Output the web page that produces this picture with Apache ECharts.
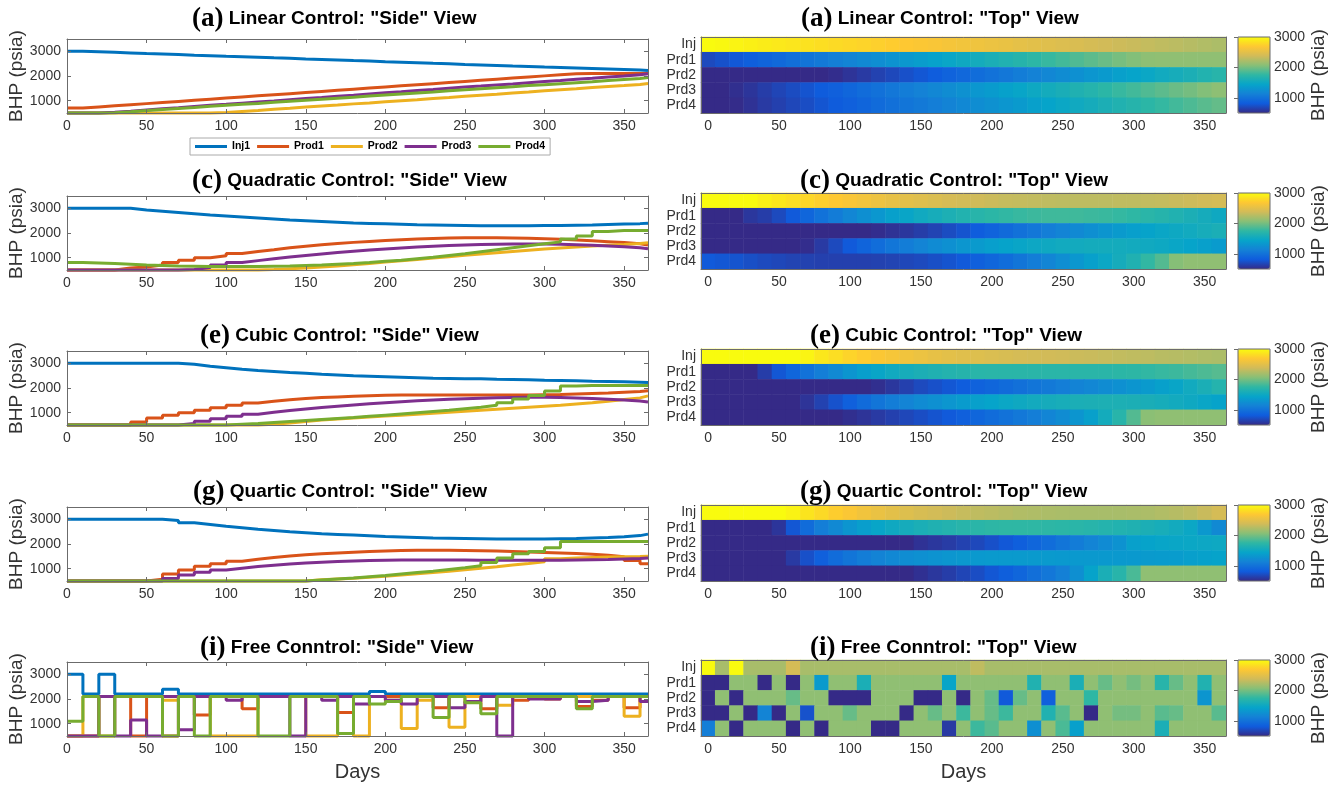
<!DOCTYPE html>
<html><head><meta charset="utf-8">
<script src="https://cdn.jsdelivr.net/npm/echarts@6/dist/echarts.min.js"></script>
<style>html,body{margin:0;padding:0;background:#fff}#c{width:1333px;height:785px}</style>
</head><body><div id="c"></div><script>
// ---------- data ----------
const days = [0,10,20,30,40,50,60,70,80,90,100,110,120,130,140,150,160,170,180,190,200,210,220,230,240,250,260,270,280,290,300,310,320,330,340,350,360];
const endDay = 365;
const wellLabels = ['Inj','Prd1','Prd2','Prd3','Prd4'];
const seriesNames = ['Inj1','Prod1','Prod2','Prod3','Prod4'];
const yTicks = [1000,2000,3000];
const cbTicks = [1000,2000,3000];
const letters = ['a','c','e','g','i'];
const controls = ['Linear Control','Quadratic Control','Cubic Control','Quartic Control','Free Conntrol'];

const linInj   = [3000,2980,2960,2935,2910,2890,2870,2845,2825,2800,2780,2760,2735,2715,2690,2670,2650,2625,2605,2580,2560,2540,2515,2495,2470,2450,2430,2405,2385,2360,2340,2320,2300,2280,2260,2240,2220];
const linProd1 = [700,745,790,835,880,925,970,1015,1060,1105,1150,1195,1240,1285,1330,1375,1420,1465,1510,1555,1600,1645,1690,1735,1780,1825,1870,1915,1960,2005,2050,2090,2100,2100,2100,2100,2100];
const linProd2 = [500,500,500,500,500,500,500,500,500,520,560,600,650,690,740,780,820,870,910,960,1000,1040,1090,1130,1180,1220,1260,1310,1350,1400,1440,1480,1530,1570,1610,1660,1700];
const linProd3 = [500,500,530,570,620,670,710,760,810,850,900,950,990,1040,1090,1130,1180,1220,1270,1320,1360,1410,1450,1500,1550,1590,1640,1680,1730,1780,1820,1870,1910,1960,2000,2050,2090];
const linProd4 = [500,500,510,550,600,640,680,720,770,810,850,890,940,980,1020,1060,1100,1140,1190,1230,1270,1310,1350,1400,1440,1480,1520,1560,1610,1650,1690,1730,1770,1820,1860,1900,1940];

const quadInj   = [3000,3000,3000,3000,2930,2880,2830,2780,2730,2690,2650,2610,2570,2530,2500,2470,2440,2410,2390,2370,2350,2330,2320,2310,2300,2290,2290,2290,2290,2300,2300,2310,2320,2340,2360,2380,2400];
const quadProd1 = [500,500,500,580,620,700,800,900,1000,1080,1170,1250,1320,1400,1460,1520,1570,1620,1660,1700,1730,1760,1780,1800,1810,1810,1810,1800,1790,1770,1750,1720,1690,1650,1610,1560,1510];
const quadProd2 = [500,500,500,500,500,500,500,500,500,500,500,500,520,550,580,620,660,710,760,820,870,930,990,1040,1100,1150,1200,1250,1300,1350,1390,1430,1470,1500,1530,1570,1600];
const quadProd3 = [500,500,500,500,500,500,500,520,600,700,800,880,960,1030,1090,1150,1210,1260,1310,1350,1390,1430,1460,1490,1510,1530,1540,1550,1550,1550,1540,1520,1500,1470,1440,1400,1360];
const quadProd4 = [800,780,760,730,700,680,660,650,640,640,640,640,650,660,680,700,730,760,800,850,900,960,1020,1090,1160,1240,1320,1400,1480,1560,1640,1760,1880,2060,2100,2100,2100];

const cubInj   = [3000,3000,3000,3000,3000,3000,3000,2960,2880,2820,2760,2710,2670,2630,2600,2560,2530,2500,2480,2460,2440,2420,2400,2390,2380,2370,2350,2340,2330,2310,2300,2290,2270,2260,2250,2230,2220];
const cubProd1 = [500,500,500,500,620,780,900,1000,1100,1200,1300,1390,1460,1520,1570,1610,1640,1670,1690,1710,1720,1720,1720,1720,1720,1720,1720,1720,1720,1730,1740,1760,1780,1800,1830,1860,1890];
const cubProd2 = [500,500,500,500,500,500,500,500,500,500,500,500,530,580,640,700,740,780,820,860,900,940,980,1020,1060,1100,1140,1180,1220,1260,1300,1350,1400,1460,1530,1600,1680];
const cubProd3 = [500,500,500,500,500,500,500,560,650,750,850,940,1020,1090,1150,1210,1260,1310,1360,1400,1440,1480,1510,1540,1560,1580,1600,1610,1620,1620,1610,1590,1570,1540,1510,1470,1430];
const cubProd4 = [500,500,500,500,500,500,500,500,500,500,530,560,600,640,680,720,760,800,850,900,950,1000,1050,1100,1160,1220,1300,1400,1550,1700,1880,2080,2100,2100,2100,2100,2100];

const quaInj   = [3000,3000,3000,3000,3000,3000,2950,2860,2790,2720,2660,2600,2550,2500,2460,2420,2390,2360,2330,2300,2280,2260,2240,2230,2220,2210,2200,2200,2200,2200,2210,2220,2240,2260,2290,2340,2400];
const quaProd1 = [500,500,500,500,500,570,780,950,1100,1200,1300,1380,1450,1510,1560,1600,1640,1670,1700,1720,1740,1750,1750,1750,1740,1730,1720,1700,1680,1660,1640,1610,1580,1540,1480,1330,1200];
const quaProd2 = [500,500,500,500,500,500,500,500,500,500,500,500,500,500,500,550,580,610,650,690,740,790,840,900,960,1020,1080,1150,1210,1280,1400,1430,1450,1470,1480,1490,1500];
const quaProd3 = [500,500,500,500,500,500,600,740,850,950,1020,1090,1140,1190,1230,1260,1290,1310,1330,1340,1350,1350,1350,1350,1350,1340,1340,1340,1340,1340,1340,1350,1360,1370,1390,1410,1430];
const quaProd4 = [500,500,500,500,500,500,500,500,500,500,500,500,500,500,500,540,580,620,670,720,780,840,900,970,1040,1120,1250,1430,1600,1700,1850,2100,2100,2100,2100,2100,2100];

const freeInj   = [3000,2200,3000,2200,2200,2200,2400,2200,2200,2200,2200,2200,2200,2200,2200,2200,2200,2200,2200,2300,2200,2200,2200,2200,2200,2200,2200,2200,2200,2200,2200,2200,2200,2200,2200,2200,2200];
const freeProd1 = [500,500,2100,2100,500,2100,500,2100,1350,2100,2100,1600,2100,2100,2100,2100,2100,1450,2100,2100,2100,2100,2100,1650,2100,2100,1600,2100,1950,2100,2000,2100,1700,1950,2100,1650,2100];
const freeProd2 = [500,2100,500,2100,2100,2100,1950,2100,2100,500,500,500,2100,2100,2100,500,500,2100,500,2100,1950,800,1950,2100,850,2100,2100,1750,2100,2100,2100,2100,2100,2100,2100,1300,2100];
const freeProd3 = [500,500,2100,500,1150,500,2100,750,2100,2100,1950,2100,2100,2100,500,2100,1950,2100,1800,2100,1950,1800,2100,2100,1650,1900,2100,500,2100,2000,2000,2100,1900,1950,2100,2100,1900];
const freeProd4 = [1100,2100,500,2100,2100,2100,500,2100,500,2100,2100,2100,500,500,2100,2100,2100,600,2100,1800,1900,2100,2100,1250,2100,1850,1400,2100,2100,2100,2100,2100,1600,2100,2100,2100,2100];

const rows = [
  [linInj, linProd1, linProd2, linProd3, linProd4],
  [quadInj, quadProd1, quadProd2, quadProd3, quadProd4],
  [cubInj, cubProd1, cubProd2, cubProd3, cubProd4],
  [quaInj, quaProd1, quaProd2, quaProd3, quaProd4],
  [freeInj, freeProd1, freeProd2, freeProd3, freeProd4]
];

// ---------- style / layout ----------
const colors = ['#0072BD','#D95319','#EDB120','#7E2F8E','#77AC30'];
const parula = ['#352a87','#0f5cdd','#1481d6','#06a4ca','#2eb7a4','#87bf77','#d1bb59','#fec832','#f9fb0e'];
const FONT = 'Liberation Sans';
const AXC = '#6b6b6b';
const LBC = '#333';
const L = {x:67, w:581, tops:[39,196,351,507,662], h:74};
const R = {x:701, w:525, tops:[37,193,349,505,660], h:76};
const CB = {x:1238, w:32};
const titleY = [19,181,336,492,648];
const titleLX = [192,192,200,193,200];
const titleRX = [801,800,810,800,810];

const opt = {animation:false, grid:[], xAxis:[], yAxis:[], series:[], visualMap:[], title:[],
  legend:{data:seriesNames, left:190, top:138, icon:'rect', itemWidth:32, itemHeight:3, itemGap:7,
    padding:[3,5], borderColor:'#aaa', borderWidth:1, selectedMode:false,
    textStyle:{fontSize:10.5, fontWeight:'bold', fontFamily:FONT, color:'#000'}}
};
const plain = v => String(v);
const lbl = (extra)=>Object.assign({color:LBC, fontSize:14, fontFamily:FONT, margin:6}, extra||{});
const line = {show:true, onZero:false, lineStyle:{color:AXC, width:1}};

function stepData(v){ return days.map((d,i)=>[d, v[i]]).concat([[endDay, v[v.length-1]]]); }

function titleText(r, view){
  return '{p|(' + letters[r] + ')} {t|' + controls[r] + ': "' + view + '" View}';
}
const titleRich = {p:{fontFamily:'Liberation Serif', fontWeight:'bold', fontSize:27, lineHeight:30, color:'#000'},
                   t:{fontFamily:FONT, fontWeight:'bold', fontSize:19, lineHeight:30, color:'#000'}};

for (let r=0;r<5;r++){
  // ----- left: side view -----
  opt.title.push({left:titleLX[r], top:titleY[r]-15, padding:0, text:titleText(r,'Side'),
    textStyle:{fontSize:19, fontFamily:FONT, rich:titleRich}});
  let gi = opt.grid.length;
  opt.grid.push({left:L.x, top:L.tops[r], width:L.w, height:L.h});
  let xb = opt.xAxis.length;
  opt.xAxis.push({gridIndex:gi, type:'value', min:0, max:endDay, interval:50, position:'bottom', z:5,
    axisLine:line, axisTick:{inside:true, length:4, lineStyle:{color:AXC}},
    axisLabel:lbl({showMaxLabel:false, formatter:plain}), splitLine:{show:false},
    name: r===4 ? 'Days' : '', nameLocation:'middle', nameGap:26,
    nameTextStyle:{fontSize:20, fontFamily:FONT, color:LBC}});
  opt.xAxis.push({gridIndex:gi, type:'value', min:0, max:endDay, interval:50, position:'top', z:5,
    axisLine:line, axisTick:{inside:true, length:4, lineStyle:{color:AXC}},
    axisLabel:{show:false}, splitLine:{show:false}});
  let yl = opt.yAxis.length;
  opt.yAxis.push({gridIndex:gi, type:'value', min:500, max:3500, position:'left', z:5,
    axisLine:line, axisTick:{inside:true, length:4, customValues:yTicks, lineStyle:{color:AXC}},
    axisLabel:lbl({customValues:yTicks, formatter:plain}), splitLine:{show:false},
    name:'BHP (psia)', nameLocation:'middle', nameGap:35,
    nameTextStyle:{fontSize:19, fontFamily:FONT, color:LBC}});
  opt.yAxis.push({gridIndex:gi, type:'value', min:500, max:3500, position:'right', z:5,
    axisLine:line, axisTick:{inside:true, length:4, customValues:yTicks, lineStyle:{color:AXC}},
    axisLabel:{show:false}, splitLine:{show:false}});
  for (let k=0;k<5;k++){
    opt.series.push({type:'line', name:seriesNames[k], xAxisIndex:xb, yAxisIndex:yl, step:'end',
      symbol:'none', clip:false, lineStyle:{width:3, color:colors[k]}, itemStyle:{color:colors[k]},
      emphasis:{disabled:true}, data:stepData(rows[r][k])});
  }

  // ----- right: top view heatmap -----
  opt.title.push({left:titleRX[r], top:titleY[r]-15, padding:0, text:titleText(r,'Top'),
    textStyle:{fontSize:19, fontFamily:FONT, rich:titleRich}});
  gi = opt.grid.length;
  opt.grid.push({left:R.x, top:R.tops[r], width:R.w, height:R.h});
  xb = opt.xAxis.length;
  const cats = days.map(String);
  opt.xAxis.push({gridIndex:gi, type:'category', data:cats, boundaryGap:true, position:'bottom', z:5,
    axisLine:line, axisTick:{inside:true, length:4, interval:4, alignWithLabel:true, lineStyle:{color:AXC}},
    axisLabel:lbl({interval:4}), splitLine:{show:false},
    name: r===4 ? 'Days' : '', nameLocation:'middle', nameGap:26,
    nameTextStyle:{fontSize:20, fontFamily:FONT, color:LBC}});
  opt.xAxis.push({gridIndex:gi, type:'category', data:cats, boundaryGap:true, position:'top', z:5,
    axisLine:line, axisTick:{inside:true, length:4, interval:4, alignWithLabel:true, lineStyle:{color:AXC}},
    axisLabel:{show:false}, splitLine:{show:false}});
  yl = opt.yAxis.length;
  opt.yAxis.push({gridIndex:gi, type:'category', data:wellLabels, inverse:true, position:'left', z:5,
    axisLine:line, axisTick:{inside:true, length:4, interval:0, alignWithLabel:true, lineStyle:{color:AXC}},
    axisLabel:lbl({interval:0, margin:5}), splitLine:{show:false}});
  opt.yAxis.push({gridIndex:gi, type:'category', data:wellLabels, inverse:true, position:'right', z:5,
    axisLine:line, axisTick:{inside:true, length:4, interval:0, alignWithLabel:true, lineStyle:{color:AXC}},
    axisLabel:{show:false}, splitLine:{show:false}});
  const cells = [];
  rows[r].forEach((vals,k)=>vals.forEach((v,i)=>cells.push([i,k,v])));
  const sIdx = opt.series.length;
  opt.series.push({type:'heatmap', xAxisIndex:xb, yAxisIndex:yl, data:cells, progressive:0,
    emphasis:{disabled:true}, itemStyle:{borderWidth:0}});
  opt.visualMap.push({type:'continuous', seriesIndex:sIdx, min:500, max:3000, calculable:false,
    orient:'vertical', left:CB.x, top:R.tops[r], itemWidth:CB.w, itemHeight:R.h, padding:0,
    hoverLink:false, z:1, inRange:{color:parula}});

  // ----- colorbar axis -----
  gi = opt.grid.length;
  opt.grid.push({left:CB.x, top:R.tops[r], width:CB.w, height:R.h, show:true, z:10,
    borderColor:AXC, borderWidth:1, backgroundColor:'transparent'});
  opt.xAxis.push({gridIndex:gi, type:'value', min:0, max:1, show:false});
  opt.yAxis.push({gridIndex:gi, type:'value', min:500, max:3000, position:'right', z:11,
    axisLine:{show:false}, axisTick:{show:true, inside:true, length:4, customValues:cbTicks, lineStyle:{color:AXC}},
    axisLabel:lbl({customValues:cbTicks, margin:4, formatter:plain}), splitLine:{show:false},
    name:'BHP (psia)', nameLocation:'middle', nameGap:33,
    nameTextStyle:{fontSize:19, fontFamily:FONT, color:LBC}});
}

const chart = echarts.init(document.getElementById('c'));
chart.setOption(opt);
</script></body></html>
